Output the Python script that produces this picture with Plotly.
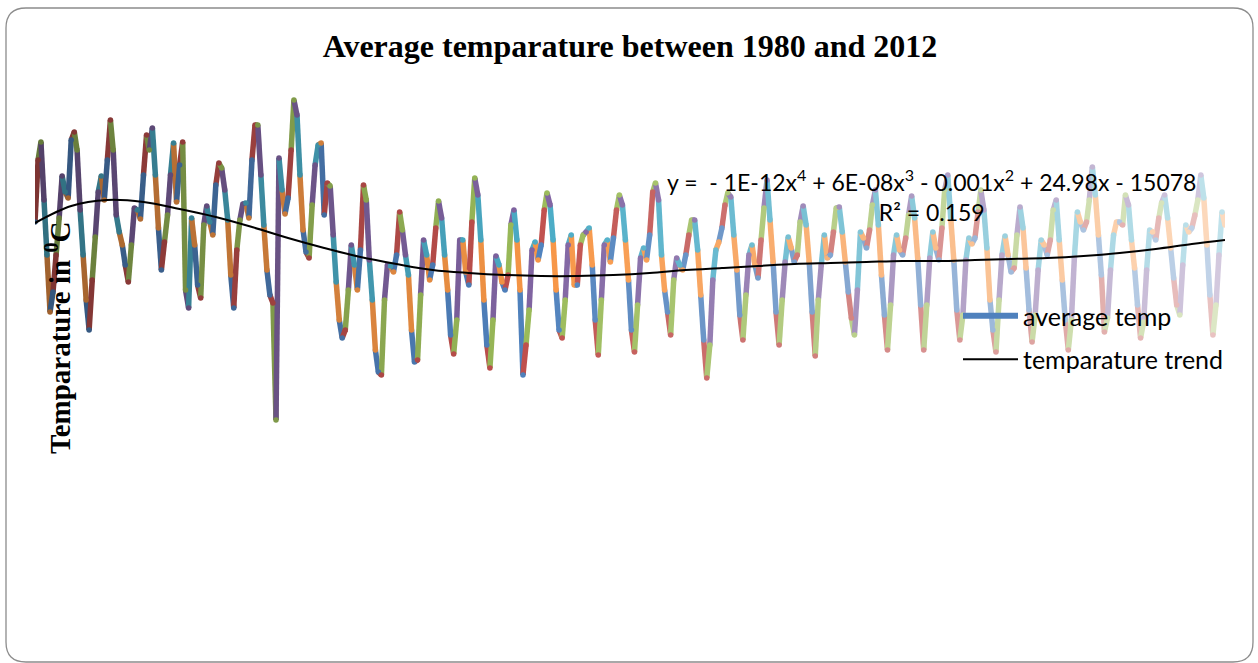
import numpy as np
import pandas as pd
import plotly.graph_objects as go

# ---------------- data (monthly average temperature, deg C) ----------------
months = pd.date_range("1980-01-01", "2012-12-01", freq="MS")

temps_1980s = [
    23.8, 30.0, 31.8, 26.0, 20.5, 14.8, 16.8, 20.5, 24.2, 28.4, 26.8, 26.2,
    32.0, 32.8, 31.0, 25.0, 20.5, 16.0, 13.0, 18.0, 22.3, 26.8, 28.4, 26.0,
    30.0, 34.0, 31.0, 24.5, 22.8, 21.5, 19.5, 17.8, 21.5, 25.2, 25.0, 24.1,
    28.5, 32.5, 31.0, 33.2, 28.5, 23.2, 19.0, 21.8, 24.5, 28.5, 31.7, 25.8,
    29.5, 31.8, 17.0, 15.2, 24.2, 21.5, 17.5, 16.2, 23.5, 25.4, 23.8, 22.5,
    27.5, 29.7, 29.2, 27.0, 24.0, 18.5, 15.2, 21.0, 24.0, 25.6, 25.7, 24.2,
    30.0, 33.5, 33.5, 28.5, 23.5, 19.0, 16.5, 15.7, 4.0, 30.2, 27.0, 24.6,
    26.2, 31.0, 36.0, 34.5, 28.5, 23.0, 20.8, 20.2, 25.5, 29.5, 31.5, 31.7,
    24.5, 27.7, 27.4, 22.5, 17.8, 14.0, 12.2, 13.0, 17.0, 21.5, 19.5, 17.0,
    21.0, 27.5, 26.0, 20.0, 16.0, 11.0, 8.8, 8.5, 16.0, 19.5, 19.4, 18.8,
]
temps_1990s = [
    20.5, 24.8, 23.0, 20.5, 18.5, 13.0, 9.8, 10.0, 16.5, 22.0, 20.5, 18.0,
    19.5, 23.2, 25.9, 24.2, 20.5, 17.0, 12.5, 10.6, 14.0, 22.0, 22.0, 18.8,
    17.5, 23.8, 28.2, 26.5, 22.0, 16.0, 11.5, 9.2, 14.0, 20.4, 19.5, 17.8,
    17.0, 18.5, 23.5, 25.0, 22.0, 17.0, 8.5, 11.5, 15.0, 21.0, 21.8, 20.0,
    21.5, 25.0, 26.7, 25.5, 22.0, 17.0, 13.0, 12.2, 16.0, 21.5, 22.5, 17.5,
    17.5, 21.5, 22.5, 22.8, 23.2, 19.5, 14.0, 10.5, 16.0, 21.5, 22.0, 19.8,
    22.2, 25.0, 26.5, 25.5, 22.0, 18.0, 13.0, 10.8, 15.5, 20.2, 21.2, 20.0,
    22.5, 26.8, 27.7, 26.0, 20.5, 17.0, 14.8, 12.5, 18.0, 20.2, 19.5, 19.0,
    20.5, 22.5, 24.0, 24.0, 21.0, 16.5, 12.0, 8.2, 11.5, 18.0, 21.0, 21.8,
    23.2, 25.5, 26.7, 26.3, 22.5, 19.0, 14.5, 12.0, 16.5, 20.5, 21.5, 19.5,
]
temps_2000s = [
    18.2, 22.0, 25.2, 28.0, 24.0, 19.8, 14.8, 11.5, 16.0, 19.8, 22.3, 21.2,
    19.8, 20.5, 23.8, 25.4, 23.5, 19.8, 14.8, 10.4, 16.0, 19.5, 22.5, 20.2,
    20.5, 22.8, 25.2, 25.3, 22.8, 19.8, 16.8, 14.2, 12.5, 17.0, 22.8, 22.2,
    21.2, 23.0, 25.5, 27.0, 23.5, 18.5, 14.5, 11.0, 15.5, 20.5, 22.5, 21.0,
    20.5, 22.2, 24.5, 26.4, 24.2, 20.2, 15.5, 11.0, 15.5, 20.2, 22.8, 21.2,
    20.0, 23.2, 27.0, 28.5, 24.2, 20.0, 15.0, 12.0, 14.5, 20.0, 22.2, 21.6,
    22.2, 24.8, 27.0, 25.0, 21.2, 16.0, 13.0, 10.8, 16.0, 20.5, 22.4, 20.5,
    18.8, 19.2, 22.5, 25.3, 23.2, 19.2, 15.0, 11.8, 14.5, 19.0, 22.0, 21.5,
    20.5, 22.0, 25.0, 26.0, 22.0, 18.0, 14.0, 11.0, 14.0, 20.2, 24.8, 23.8,
    23.0, 23.8, 26.0, 29.3, 26.5, 22.5, 18.5, 12.8, 14.2, 19.0, 22.5, 23.8,
]
temps_2010s = [
    23.8, 23.5, 26.5, 25.5, 22.0, 19.2, 15.5, 12.2, 13.8, 19.0, 23.0, 22.8,
    22.0, 24.2, 25.7, 26.5, 24.2, 21.2, 18.2, 15.5, 14.5, 19.5, 23.5, 22.8,
    23.2, 24.5, 26.0, 28.5, 26.2, 21.5, 16.5, 12.5, 15.5, 20.5, 24.8, 23.5,
]
temps = temps_1980s + temps_1990s + temps_2000s + temps_2010s

# polynomial trendline as drawn by the spreadsheet (read at each January + last month)
trend_dates = list(pd.date_range("1980-01-01", "2012-01-01", freq="YS")) + [pd.Timestamp("2012-12-01")]
trend_values = [
    23.7, 25.4, 26.0, 25.8, 25.1, 24.3, 23.3, 22.2, 21.2, 20.3,
    19.6, 19.0, 18.7, 18.5, 18.4, 18.4, 18.5, 18.7, 19.0, 19.2,
    19.4, 19.6, 19.7, 19.8, 19.9, 19.9, 20.0, 20.1, 20.2, 20.4,
    20.7, 21.1, 21.6, 22.0,
]

title_text = "Average temparature between 1980 and 2012"
y_title_text = "Temparature in <sup>0</sup>C"
series_name = "average temp"
trend_name = "temparature trend"
equation_text = ("y =  - 1E-12x<sup>4</sup> + 6E-08x<sup>3</sup> - 0.001x<sup>2</sup>"
                 " + 24.98x - 15078<br>R² = 0.159")

# Excel 2007 "vary colors by point" palette
accents = ["#4F81BD", "#C0504D", "#9BBB59", "#8064A2", "#4BACC6", "#F79646"]


def hex_rgb(h):
    h = h.lstrip("#")
    return [int(h[k:k + 2], 16) for k in (0, 2, 4)]


def point_color(i, n):
    rounds = (n - 1) // 6
    t = (i // 6) / rounds
    base = hex_rgb(accents[i % 6])
    if t < 0.42:
        f = 1 - 0.35 * (0.42 - t) / 0.42
        rgb = [c * f for c in base]
    else:
        a = 0.65 * (t - 0.42) / 0.58
        rgb = [c + (255 - c) * a for c in base]
    return "rgb(%d,%d,%d)" % tuple(int(round(c)) for c in rgb)


n = len(temps)
colors = [point_color(i, n) for i in range(n)]

# ---------------- layout geometry (pixels) ----------------
W, H = 1258, 663
L, R, T, B = 35, 33, 80, 53
pw, ph = W - L - R, H - T - B


def px(x):
    return (x - L) / pw


def py(y):
    return (H - B - y) / ph


fig = go.Figure()

LW = 5.5
for i in range(1, n):
    fig.add_trace(go.Scatter(
        x=[months[i - 1], months[i]], y=[temps[i - 1], temps[i]],
        mode="lines", line=dict(color=colors[i], width=LW),
        showlegend=False, hoverinfo="skip"))

fig.add_trace(go.Scatter(
    x=months, y=temps, mode="markers",
    marker=dict(color=colors, size=LW, line=dict(width=0)),
    showlegend=False, hoverinfo="skip"))

# legend entry for the series
fig.add_trace(go.Scatter(
    x=[None], y=[None], mode="lines", name=series_name,
    line=dict(color="#4F81BD", width=6), legendgroup="a"))

fig.add_trace(go.Scatter(
    x=trend_dates, y=trend_values, mode="lines", name=trend_name,
    line=dict(color="black", width=2, shape="spline"), legendgroup="b",
    hoverinfo="skip"))

# rounded chart-area border
x0, x1, y0, y1, rad = 6, 1253, 8, 662, 20
path = (f"M {px(x0 + rad)},{py(y0)} L {px(x1 - rad)},{py(y0)} "
        f"Q {px(x1)},{py(y0)} {px(x1)},{py(y0 + rad)} "
        f"L {px(x1)},{py(y1 - rad)} Q {px(x1)},{py(y1)} {px(x1 - rad)},{py(y1)} "
        f"L {px(x0 + rad)},{py(y1)} Q {px(x0)},{py(y1)} {px(x0)},{py(y1 - rad)} "
        f"L {px(x0)},{py(y0 + rad)} Q {px(x0)},{py(y0)} {px(x0 + rad)},{py(y0)} Z")

fig.update_layout(
    width=W, height=H,
    margin=dict(l=L, r=R, t=T, b=B, pad=0),
    paper_bgcolor="white", plot_bgcolor="white",
    hovermode=False,
    title=dict(text=title_text, x=630 / W, xanchor="center", xref="container",
               y=1 - 46 / H, yanchor="middle", yref="container",
               font=dict(family="Liberation Serif", size=32, color="black",
                         weight="bold")),
    xaxis=dict(visible=False, range=[months[0], months[-1]]),
    yaxis=dict(visible=False, range=[-15, 38]),
    showlegend=True,
    legend=dict(x=px(958), xanchor="left", y=py(293), yanchor="top",
                font=dict(family="Lato", size=25, color="black"),
                bgcolor="rgba(0,0,0,0)", traceorder="grouped",
                tracegroupgap=8, itemwidth=55),
    shapes=[dict(type="path", xref="paper", yref="paper", path=path,
                 line=dict(color="#8c8c8c", width=1.3), layer="above")],
    annotations=[
        dict(text=equation_text, x=px(931), y=py(196), xref="paper", yref="paper",
             xanchor="center", yanchor="middle", align="center", showarrow=False,
             font=dict(family="Lato", size=23, color="black")),
        dict(text=y_title_text, x=px(58), y=py(338), xref="paper", yref="paper",
             xanchor="center", yanchor="middle", textangle=-90, showarrow=False,
             font=dict(family="Liberation Serif", size=29, color="black",
                       weight="bold")),
    ],
)

fig.write_html("out.html", config={"displayModeBar": False},
               post_script="document.body.style.margin='0';")
